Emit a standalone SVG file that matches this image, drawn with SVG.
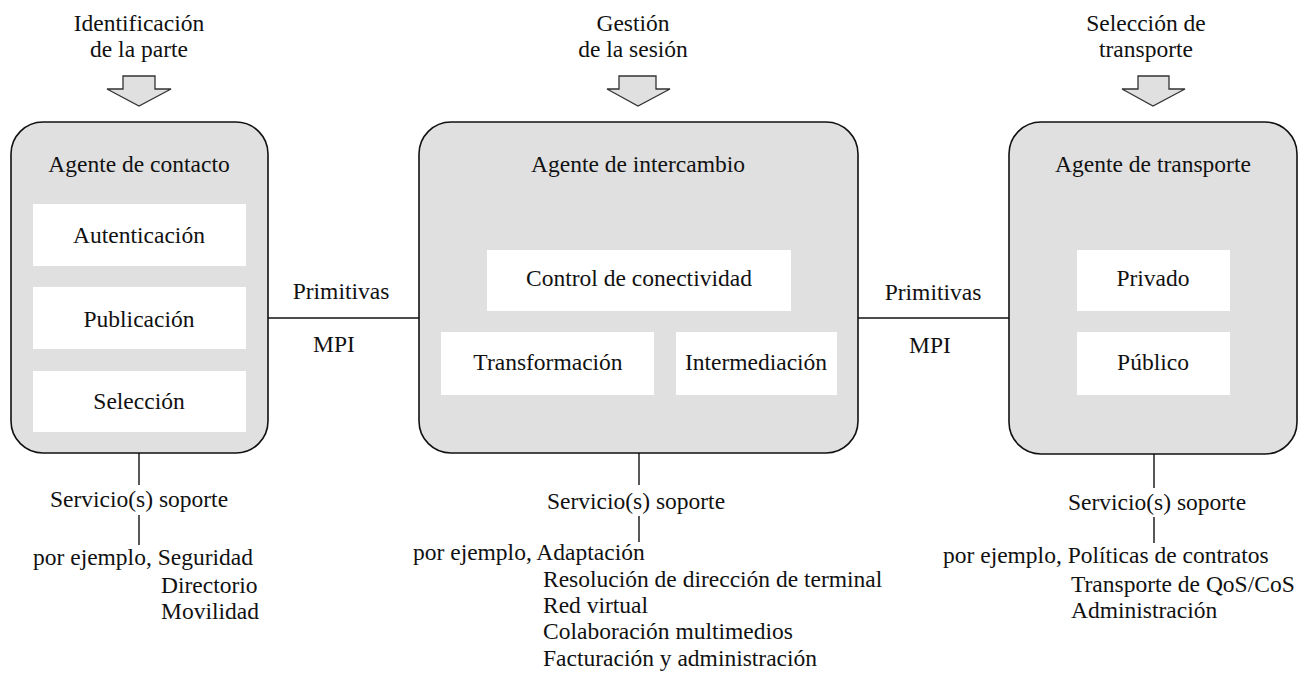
<svg xmlns="http://www.w3.org/2000/svg" width="1310" height="680" viewBox="0 0 1310 680">
  <style>
    text { font-family: "Liberation Serif", "Times New Roman", serif; font-size: 23.5px; fill: #111; }
    .c { text-anchor: middle; }
    .agent { fill: #e0e0e0; stroke: #111; stroke-width: 1.6; }
    .part { fill: #ffffff; stroke: none; }
    .wire { stroke: #111; stroke-width: 1.4; fill: none; }
    .input { fill: #e0e0e0; stroke: #333; stroke-width: 1.3; }
  </style>

  <!-- contact agent -->
  <g id="contact-agent">
    <text class="c" x="139" y="31">Identificación</text>
    <text class="c" x="139" y="57">de la parte</text>
    <polygon class="input" points="123,76 155,76 155,89 171,89 139,106 107,89 123,89"/>
    <rect class="agent" x="11" y="122" width="257" height="331" rx="32"/>
    <text class="c" x="139" y="172">Agente de contacto</text>
    <rect class="part" x="33" y="204" width="213" height="62"/>
    <text class="c" x="139" y="243">Autenticación</text>
    <rect class="part" x="33" y="287" width="213" height="62"/>
    <text class="c" x="139" y="327">Publicación</text>
    <rect class="part" x="33" y="371" width="213" height="61"/>
    <text class="c" x="139" y="409">Selección</text>
    <text class="c" x="139" y="507">Servicio(s) soporte</text>
    <text x="33" y="565">por ejemplo, Seguridad</text>
    <text x="161" y="593">Directorio</text>
    <text x="161" y="619">Movilidad</text>
  </g>

  <!-- exchange agent -->
  <g id="exchange-agent">
    <text class="c" x="633" y="31">Gestión</text>
    <text class="c" x="633" y="57">de la sesión</text>
    <polygon class="input" points="619,76 656,76 656,89 670,89 638,106 607,89 619,89"/>
    <rect class="agent" x="419" y="122" width="439" height="331" rx="32"/>
    <text class="c" x="638" y="172">Agente de intercambio</text>
    <rect class="part" x="487" y="250" width="304" height="61"/>
    <text class="c" x="639" y="286">Control de conectividad</text>
    <rect class="part" x="441" y="332" width="213" height="63"/>
    <text class="c" x="548" y="370">Transformación</text>
    <rect class="part" x="676" y="332" width="161" height="63"/>
    <text class="c" x="756" y="370">Intermediación</text>
    <text class="c" x="636" y="509">Servicio(s) soporte</text>
    <text x="413" y="560">por ejemplo, Adaptación</text>
    <text x="543" y="587">Resolución de dirección de terminal</text>
    <text x="543" y="613">Red virtual</text>
    <text x="543" y="639">Colaboración multimedios</text>
    <text x="543" y="666">Facturación y administración</text>
  </g>

  <!-- transport agent -->
  <g id="transport-agent">
    <text class="c" x="1146" y="31">Selección de</text>
    <text class="c" x="1146" y="57">transporte</text>
    <polygon class="input" points="1138,76 1169,76 1169,89 1185,89 1153,106 1122,89 1138,89"/>
    <rect class="agent" x="1009" y="122" width="288" height="332" rx="32"/>
    <text class="c" x="1153" y="172">Agente de transporte</text>
    <rect class="part" x="1077" y="250" width="153" height="61"/>
    <text class="c" x="1153" y="286">Privado</text>
    <rect class="part" x="1077" y="332" width="153" height="63"/>
    <text class="c" x="1153" y="370">Público</text>
    <text class="c" x="1157" y="510">Servicio(s) soporte</text>
    <text x="943" y="563">por ejemplo, Políticas de contratos</text>
    <text x="1071" y="592">Transporte de QoS/CoS</text>
    <text x="1071" y="618">Administración</text>
  </g>

  <!-- MPI primitive labels -->
  <g id="mpi-left">
    <text class="c" x="341" y="299">Primitivas</text>
    <text class="c" x="334" y="352">MPI</text>
  </g>
  <g id="mpi-right">
    <text class="c" x="933" y="300">Primitivas</text>
    <text class="c" x="930" y="353">MPI</text>
  </g>

  <!-- connectors -->
  <g id="connectors">
    <line class="wire" x1="268" y1="318" x2="419" y2="318"/>
    <line class="wire" x1="858" y1="318" x2="1009" y2="318"/>
    <line class="wire" x1="139" y1="453" x2="139" y2="485"/>
    <line class="wire" x1="139" y1="515" x2="139" y2="545"/>
    <line class="wire" x1="639" y1="453" x2="639" y2="485"/>
    <line class="wire" x1="639" y1="516" x2="639" y2="542"/>
    <line class="wire" x1="1154" y1="454" x2="1154" y2="488"/>
    <line class="wire" x1="1154" y1="517" x2="1154" y2="543"/>
  </g>
</svg>
